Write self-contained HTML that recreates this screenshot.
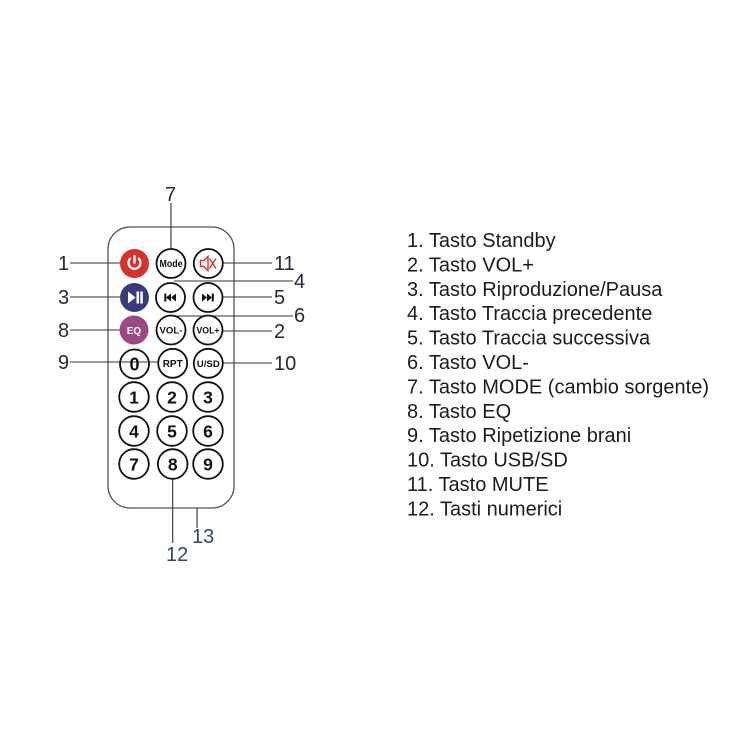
<!DOCTYPE html>
<html><head><meta charset="utf-8"><style>
html,body{margin:0;padding:0;background:#fff;}
svg{display:block;}
</style></head><body>
<svg width="750" height="750" viewBox="0 0 750 750" xmlns="http://www.w3.org/2000/svg" font-family="Liberation Sans, Arial, sans-serif">
<rect width="750" height="750" fill="#fff"/>
<!-- remote body -->
<rect x="108" y="227" width="126" height="281" rx="22" ry="22" fill="#fff" stroke="#555" stroke-width="1.3"/>

<!-- connector lines -->
<g stroke="#333" stroke-width="1.1" fill="none">
<line x1="171" y1="203" x2="171" y2="249"/>
<line x1="70" y1="263" x2="120" y2="263"/>
<line x1="70" y1="297" x2="120" y2="297"/>
<line x1="70" y1="330" x2="120" y2="330"/>
<line x1="70" y1="362" x2="158" y2="362"/>
<line x1="223" y1="263" x2="272" y2="263"/>
<line x1="174" y1="281" x2="293" y2="281"/>
<line x1="223" y1="297" x2="272" y2="297"/>
<line x1="174" y1="316" x2="293" y2="316"/>
<line x1="223" y1="331" x2="272" y2="331"/>
<line x1="223" y1="363" x2="272" y2="363"/>
<line x1="172.7" y1="478" x2="172.7" y2="543"/>
<line x1="197" y1="508" x2="197" y2="528"/>
</g>

<!-- colored buttons -->
<circle cx="134.5" cy="263.5" r="14.5" fill="#d7312e"/>
<circle cx="134.5" cy="297.5" r="14.5" fill="#3b3a78"/>
<circle cx="134" cy="330" r="14.5" fill="#9a4a82"/>
<!-- power icon -->
<path d="M130.2 258.6 A6 6 0 1 0 138.8 258.6" stroke="#fff" stroke-width="2.2" fill="none" stroke-linecap="round"/>
<line x1="134.5" y1="256" x2="134.5" y2="263" stroke="#fff" stroke-width="2.2" stroke-linecap="round"/>
<!-- play/pause icon -->
<polygon points="128,291.5 128,303.5 135.5,297.5" fill="#fff"/>
<rect x="136.5" y="291.5" width="2.5" height="12" fill="#fff"/>
<rect x="140.3" y="291.5" width="2.5" height="12" fill="#fff"/>
<!-- EQ -->
<text x="134" y="333.8" font-size="10" font-weight="bold" fill="#fff" text-anchor="middle">EQ</text>

<!-- outlined buttons -->
<g fill="#fff" stroke="#111" stroke-width="1.8">
<circle cx="171" cy="263.5" r="14.5"/>
<circle cx="208.3" cy="263.5" r="14.5"/>
<circle cx="170.5" cy="297.5" r="14.5"/>
<circle cx="208" cy="297.5" r="14.5"/>
<circle cx="171" cy="330" r="14.5"/>
<circle cx="208" cy="330" r="14.5"/>
<circle cx="134.5" cy="364" r="14.5"/>
<circle cx="172.7" cy="363.3" r="14.5"/>
<circle cx="208.3" cy="363.3" r="14.5"/>
<circle cx="134" cy="397" r="14.8"/>
<circle cx="172" cy="397" r="14.8"/>
<circle cx="208" cy="397" r="14.8"/>
<circle cx="134" cy="431" r="14.8"/>
<circle cx="172" cy="431" r="14.8"/>
<circle cx="208" cy="431" r="14.8"/>
<circle cx="134" cy="464" r="14.8"/>
<circle cx="172.7" cy="464" r="14.8"/>
<circle cx="208" cy="464" r="14.8"/>
</g>
<!-- redraw line 9 through the 0 button -->
<line x1="119" y1="362" x2="158" y2="362" stroke="#333" stroke-width="1.1"/>

<!-- mute icon -->
<g stroke="#d7312e" stroke-width="1.4" fill="none">
<polygon points="200.5,260.5 203.8,260.5 208,256.5 208,270.5 203.8,266.5 200.5,266.5"/>
<line x1="209.5" y1="258.5" x2="216" y2="268.5"/>
<line x1="216" y1="258.5" x2="209.5" y2="268.5"/>
</g>
<!-- prev / next icons -->
<g fill="#111">
<rect x="164.3" y="293.5" width="2" height="8"/>
<polygon points="166,297.5 171,293.5 171,301.5"/>
<polygon points="171,297.5 176,293.5 176,301.5"/>
<polygon points="202,293.5 207,297.5 202,301.5"/>
<polygon points="207,293.5 212,297.5 207,301.5"/>
<rect x="211.8" y="293.5" width="2" height="8"/>
</g>

<!-- button labels -->
<g font-weight="bold" fill="#111" text-anchor="middle">
<text x="171" y="267" font-size="10" textLength="23" lengthAdjust="spacingAndGlyphs">Mode</text>
<text x="171" y="333.5" font-size="9.5" textLength="23" lengthAdjust="spacingAndGlyphs">VOL-</text>
<text x="208" y="333.5" font-size="9.5" textLength="23" lengthAdjust="spacingAndGlyphs">VOL+</text>
<text x="172.7" y="367" font-size="10" textLength="20" lengthAdjust="spacingAndGlyphs">RPT</text>
<text x="208.3" y="367" font-size="9.5" textLength="23" lengthAdjust="spacingAndGlyphs">U/SD</text>
<text x="134.5" y="370.5" font-size="18">0</text>
<text x="134" y="403.5" font-size="17.5">1</text>
<text x="172" y="403.5" font-size="17.5">2</text>
<text x="208" y="403.5" font-size="17.5">3</text>
<text x="134" y="437.5" font-size="17.5">4</text>
<text x="172" y="437.5" font-size="17.5">5</text>
<text x="208" y="437.5" font-size="17.5">6</text>
<text x="134" y="470.5" font-size="17.5">7</text>
<text x="172.7" y="470.5" font-size="17.5">8</text>
<text x="208" y="470.5" font-size="17.5">9</text>
</g>

<!-- callout numbers -->
<g font-size="20" fill="#232838">
<text x="170.5" y="201" text-anchor="middle">7</text>
<text x="63.5" y="270" text-anchor="middle">1</text>
<text x="63.5" y="304" text-anchor="middle">3</text>
<text x="63.5" y="337" text-anchor="middle">8</text>
<text x="63.5" y="369" text-anchor="middle">9</text>
<text x="274" y="270">11</text>
<text x="294" y="288">4</text>
<text x="274" y="304">5</text>
<text x="294" y="322">6</text>
<text x="274" y="338">2</text>
<text x="274" y="370">10</text>
</g>
<g font-size="20" fill="#34466a">
<text x="166" y="561">12</text>
<text x="192" y="543">13</text>
</g>

<!-- legend -->
<g font-size="20" fill="#1c1c1c">
<text x="407" y="247">1. Tasto Standby</text>
<text x="407" y="271.4">2. Tasto VOL+</text>
<text x="407" y="295.8">3. Tasto Riproduzione/Pausa</text>
<text x="407" y="320.2">4. Tasto Traccia precedente</text>
<text x="407" y="344.6">5. Tasto Traccia successiva</text>
<text x="407" y="369">6. Tasto VOL-</text>
<text x="407" y="393.4">7. Tasto MODE (cambio sorgente)</text>
<text x="407" y="417.8">8. Tasto EQ</text>
<text x="407" y="442.2">9. Tasto Ripetizione brani</text>
<text x="407" y="466.6">10. Tasto USB/SD</text>
<text x="407" y="491">11. Tasto MUTE</text>
<text x="407" y="515.4">12. Tasti numerici</text>
</g>
</svg>
</body></html>
